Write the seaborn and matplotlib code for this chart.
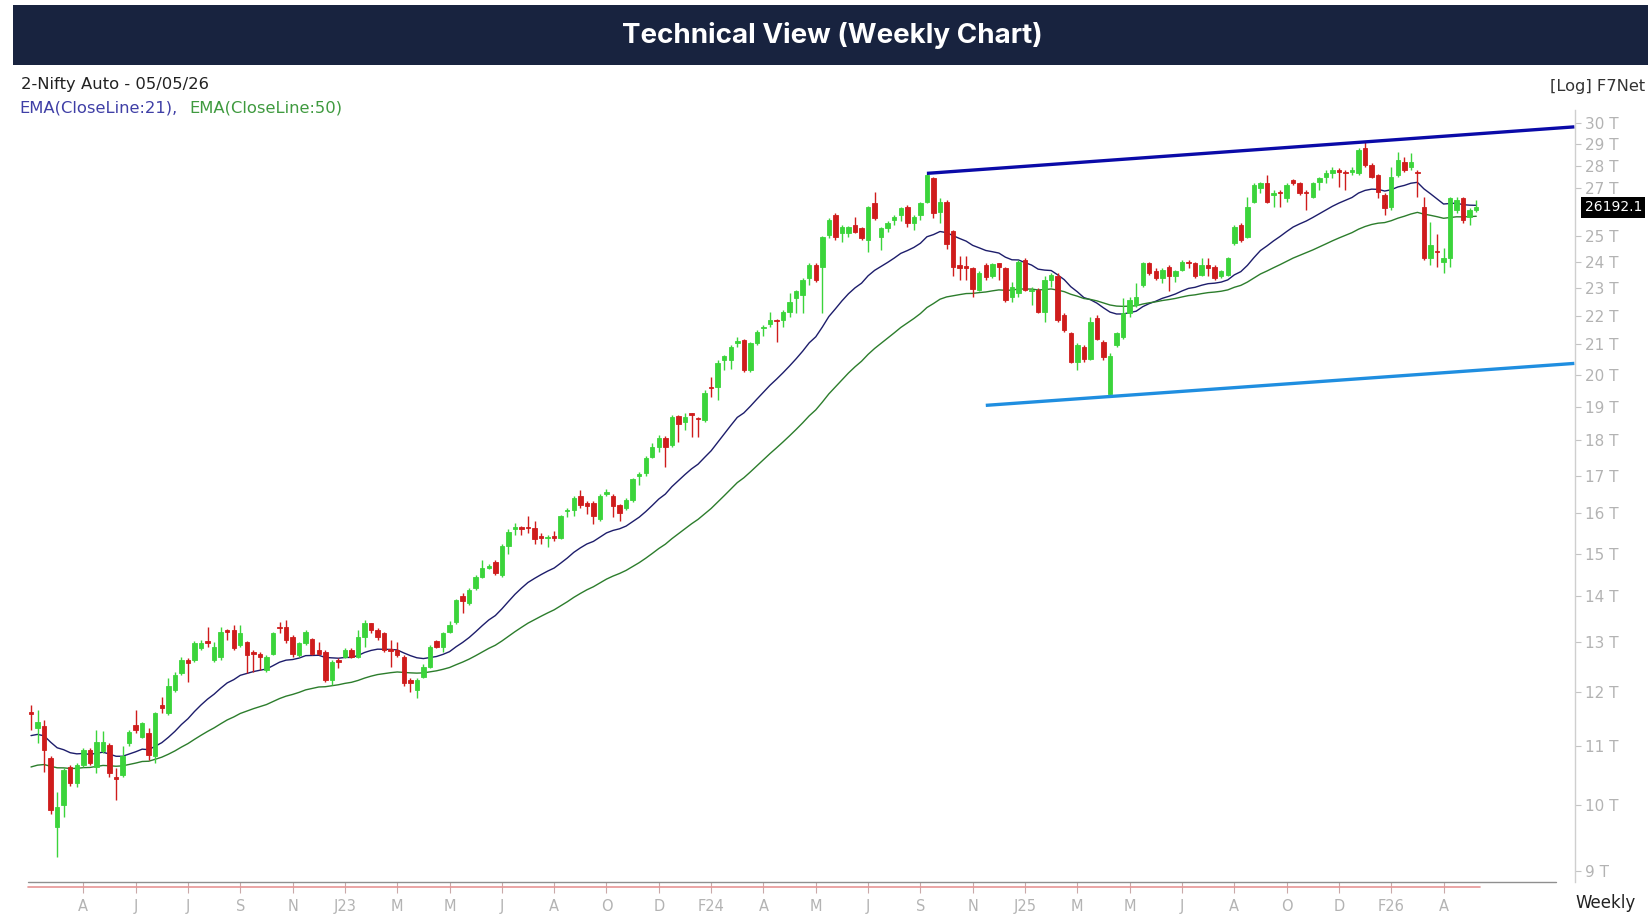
import numpy as np
import pandas as pd
import matplotlib
matplotlib.use("Agg")
import matplotlib.pyplot as plt
import matplotlib.transforms as mtransforms
from matplotlib.patches import Rectangle
from matplotlib.ticker import FixedLocator, NullLocator, FuncFormatter
import seaborn as sns

# weekly candles of Nifty Auto, values in thousands (T)
open_ = [11.62, 11.32, 11.36, 10.79, 9.66, 10.01, 10.64, 10.36, 10.67, 10.93,
         10.64, 10.91, 11.02, 10.47, 10.50, 11.05, 11.38, 11.17, 11.23, 10.82,
         11.75, 11.60, 12.04, 12.37, 12.64, 12.64, 12.88, 13.02, 12.64, 12.70,
         13.26, 13.26, 12.95, 13.00, 12.80, 12.77, 12.43, 12.77, 13.33, 13.33,
         13.12, 12.74, 12.98, 13.08, 12.84, 12.81, 12.24, 12.64, 12.70, 12.84,
         12.70, 13.12, 13.41, 13.26, 13.19, 12.86, 12.84, 12.70, 12.24, 12.04,
         12.30, 12.50, 13.02, 12.91, 13.22, 13.44, 14.00, 13.85, 14.18, 14.45,
         14.66, 14.80, 14.49, 15.19, 15.60, 15.66, 15.66, 15.64, 15.42, 15.37,
         15.43, 15.38, 16.05, 16.10, 16.45, 16.28, 16.28, 15.85, 16.50, 16.45,
         16.22, 16.15, 16.36, 16.98, 17.07, 17.53, 17.81, 18.06, 17.86, 18.72,
         18.54, 18.80, 18.66, 18.59, 19.62, 19.62, 20.48, 20.48, 21.05, 21.15,
         20.15, 21.04, 21.55, 21.70, 21.85, 21.85, 22.14, 22.62, 22.75, 23.37,
         23.87, 23.80, 25.04, 25.87, 25.11, 25.11, 25.45, 25.32, 24.85, 26.36,
         24.98, 25.32, 25.66, 25.87, 26.22, 25.52, 25.87, 26.43, 27.44, 26.00,
         26.43, 25.20, 23.85, 23.82, 23.74, 22.93, 23.86, 23.43, 23.93, 23.74,
         22.68, 22.80, 24.06, 22.87, 22.93, 22.14, 23.30, 23.43, 22.02, 21.38,
         20.42, 20.92, 20.53, 21.90, 21.10, 19.40, 20.98, 21.26, 22.08, 22.38,
         23.12, 23.93, 23.62, 23.37, 23.80, 23.43, 23.68, 24.00, 23.93, 23.49,
         23.87, 23.80, 23.43, 23.49, 24.72, 25.45, 24.98, 26.43, 27.00, 27.22,
         26.70, 26.86, 26.57, 27.37, 27.22, 26.86, 26.64, 27.29, 27.51, 27.66,
         27.81, 27.73, 27.73, 27.66, 28.80, 28.02, 27.58, 26.71, 26.22, 27.58,
         28.18, 27.96, 27.70, 26.22, 24.12, 24.42, 24.00, 24.12, 26.08, 26.57,
         25.80, 26.08]
high = [11.76, 11.66, 11.47, 10.82, 10.22, 10.62, 10.67, 10.70, 10.96, 10.96,
        11.29, 11.28, 11.05, 10.62, 11.00, 11.29, 11.66, 11.44, 11.32, 11.63,
        11.91, 12.27, 12.40, 12.70, 12.67, 13.02, 13.05, 13.33, 13.00, 13.33,
        13.28, 13.37, 13.37, 13.02, 12.84, 12.81, 12.74, 13.22, 13.44, 13.48,
        13.15, 13.00, 13.26, 13.10, 13.00, 12.84, 12.64, 12.67, 12.88, 12.88,
        13.26, 13.48, 13.42, 13.30, 13.22, 13.05, 13.00, 12.74, 12.27, 12.27,
        12.55, 12.95, 13.05, 13.22, 13.45, 13.95, 14.07, 14.18, 14.49, 14.84,
        14.76, 14.84, 15.22, 15.60, 15.76, 15.68, 15.93, 15.80, 15.50, 15.45,
        15.56, 15.96, 16.15, 16.45, 16.62, 16.32, 16.32, 16.50, 16.65, 16.50,
        16.25, 16.40, 16.93, 17.10, 17.55, 17.91, 18.15, 18.11, 18.74, 18.75,
        18.80, 18.82, 18.68, 19.52, 19.94, 20.48, 20.65, 20.98, 21.27, 21.20,
        21.10, 21.50, 21.66, 22.14, 21.87, 22.20, 22.80, 22.93, 23.37, 23.93,
        23.93, 25.00, 25.73, 25.94, 25.45, 25.40, 25.80, 25.39, 26.25, 26.85,
        25.39, 25.60, 25.87, 26.22, 26.28, 25.87, 26.43, 27.66, 27.50, 26.57,
        26.50, 25.25, 24.20, 24.20, 23.80, 23.62, 23.93, 23.93, 23.95, 23.80,
        23.24, 24.06, 24.12, 23.05, 23.00, 23.43, 23.55, 23.55, 22.08, 21.44,
        21.04, 20.98, 21.96, 22.02, 21.15, 20.70, 21.44, 22.62, 22.68, 23.18,
        24.00, 24.00, 23.74, 23.74, 23.87, 23.68, 24.06, 24.06, 24.00, 24.12,
        24.12, 23.87, 23.68, 24.19, 25.45, 25.52, 26.64, 27.22, 27.29, 27.58,
        26.93, 26.93, 27.22, 27.40, 27.29, 26.93, 27.29, 27.51, 27.81, 27.96,
        27.88, 27.81, 27.96, 28.80, 29.10, 28.11, 27.62, 26.78, 27.96, 28.64,
        28.41, 28.56, 27.81, 26.64, 25.59, 25.10, 24.52, 26.64, 26.64, 26.64,
        26.15, 26.50]
low = [11.29, 11.05, 10.56, 9.86, 9.21, 9.82, 10.31, 10.30, 10.64, 10.67,
       10.53, 10.88, 10.47, 10.09, 10.47, 11.00, 11.23, 11.14, 10.76, 10.70,
       11.60, 11.57, 12.00, 12.34, 12.20, 12.60, 12.85, 12.91, 12.60, 12.64,
       13.05, 12.84, 12.91, 12.38, 12.40, 12.43, 12.40, 12.74, 13.19, 12.98,
       12.70, 12.70, 12.95, 12.74, 12.74, 12.20, 12.14, 12.47, 12.67, 12.67,
       12.67, 12.91, 13.19, 13.05, 12.80, 12.50, 12.70, 12.11, 12.00, 11.88,
       12.27, 12.47, 12.88, 12.80, 13.19, 13.40, 13.62, 13.81, 14.14, 14.41,
       14.62, 14.49, 14.45, 15.00, 15.45, 15.45, 15.50, 15.23, 15.22, 15.15,
       15.30, 15.35, 15.90, 15.93, 16.15, 15.98, 15.73, 15.80, 16.45, 15.90,
       15.80, 16.10, 16.30, 16.75, 17.00, 17.49, 17.66, 17.25, 17.80, 17.95,
       18.30, 18.10, 18.10, 18.54, 19.31, 19.20, 20.15, 20.20, 20.93, 20.10,
       20.10, 20.98, 21.30, 21.60, 21.10, 21.60, 21.95, 22.08, 22.08, 23.12,
       23.24, 22.08, 24.92, 24.85, 24.78, 24.98, 25.11, 24.85, 24.38, 25.66,
       24.45, 25.18, 25.45, 25.60, 25.39, 25.25, 25.66, 26.36, 25.73, 25.52,
       24.50, 23.45, 23.30, 23.30, 22.68, 22.87, 23.30, 23.37, 23.31, 22.50,
       22.50, 22.68, 22.87, 22.38, 22.08, 21.79, 23.05, 21.79, 21.44, 20.37,
       20.16, 20.42, 20.48, 21.15, 20.48, 19.30, 20.92, 21.20, 21.96, 22.32,
       23.05, 23.49, 23.30, 23.18, 22.87, 23.24, 23.62, 23.74, 23.37, 23.43,
       23.43, 23.30, 23.37, 23.43, 24.65, 24.78, 24.92, 26.36, 26.78, 26.36,
       26.22, 26.22, 26.43, 27.15, 26.71, 26.08, 26.57, 26.93, 27.22, 27.44,
       27.07, 26.93, 27.58, 27.58, 27.95, 27.44, 26.57, 25.87, 26.08, 27.51,
       27.73, 27.81, 26.64, 24.06, 23.87, 23.80, 23.55, 23.80, 25.94, 25.52,
       25.45, 26.00]
close = [11.58, 11.43, 10.93, 9.93, 9.98, 10.59, 10.36, 10.67, 10.93, 10.70,
         11.08, 11.08, 10.53, 10.44, 10.82, 11.26, 11.29, 11.41, 10.85, 11.60,
         11.70, 12.11, 12.34, 12.64, 12.57, 12.98, 12.98, 12.98, 12.91, 13.22,
         13.22, 12.88, 13.19, 12.74, 12.77, 12.70, 12.70, 13.19, 13.30, 13.05,
         12.77, 12.98, 13.22, 12.77, 12.77, 12.24, 12.60, 12.60, 12.84, 12.70,
         13.12, 13.41, 13.26, 13.12, 12.84, 12.82, 12.74, 12.17, 12.17, 12.24,
         12.50, 12.91, 12.91, 13.19, 13.37, 13.92, 13.90, 14.14, 14.45, 14.65,
         14.71, 14.53, 15.19, 15.52, 15.66, 15.60, 15.62, 15.35, 15.38, 15.40,
         15.38, 15.93, 16.10, 16.40, 16.22, 16.19, 15.93, 16.45, 16.56, 16.19,
         16.02, 16.36, 16.90, 17.05, 17.48, 17.81, 18.06, 17.81, 18.69, 18.49,
         18.70, 18.75, 18.62, 19.41, 19.57, 20.37, 20.60, 20.93, 21.11, 20.15,
         21.04, 21.43, 21.60, 21.85, 21.80, 22.14, 22.50, 22.87, 23.30, 23.87,
         23.30, 24.95, 25.66, 24.98, 25.39, 25.39, 25.18, 24.92, 26.22, 25.73,
         25.32, 25.52, 25.80, 26.15, 25.52, 25.80, 26.36, 27.58, 25.94, 26.43,
         24.70, 23.80, 23.75, 23.75, 22.95, 23.55, 23.40, 23.90, 23.80, 22.56,
         23.05, 24.00, 22.93, 22.93, 22.14, 23.30, 23.49, 21.85, 21.50, 20.42,
         20.98, 20.53, 21.79, 21.20, 20.59, 20.60, 21.38, 22.08, 22.56, 22.68,
         23.93, 23.55, 23.37, 23.68, 23.43, 23.62, 24.00, 23.93, 23.43, 23.87,
         23.74, 23.37, 23.62, 24.12, 25.38, 24.85, 26.22, 27.15, 27.22, 26.43,
         26.79, 26.79, 27.15, 27.22, 26.79, 26.79, 27.22, 27.44, 27.66, 27.81,
         27.73, 27.66, 27.81, 28.72, 28.05, 27.51, 26.86, 26.15, 27.51, 28.26,
         27.81, 28.18, 27.66, 24.12, 24.65, 24.38, 24.12, 26.57, 26.50, 25.66,
         26.08, 26.1921]

# EMA values at the first visible week (history before the window)
ema21_start = 11.15
ema50_start = 10.60

# trend lines: (week number, value in T)
upper_weeks = [137, 236]
upper_values = [27.66, 29.81]
lower_weeks = [146, 236]
lower_values = [19.04, 20.37]

x_labels = ["A", "J", "J", "S", "N", "J23", "M", "M", "J", "A", "O", "D", "F24", "A",
            "M", "J", "S", "N", "J25", "M", "M", "J", "A", "O", "D", "F26", "A"]
# 26 T sits under the last-price tag, so the chart does not print it
y_levels = [9, 10, 11, 12, 13, 14, 15, 16, 17, 18, 19, 20, 21, 22, 23, 24, 25, 27, 28, 29, 30]
last_text = "26192.1"

assert len(open_) == len(high) == len(low) == len(close), (len(open_), len(high), len(low), len(close))

sns.set_theme(style="white")
plt.rcParams['font.family'] = ['DejaVu Sans']

df = pd.DataFrame({'open': open_, 'high': high, 'low': low, 'close': close})
df['week'] = np.arange(len(df))
df['ema21'] = pd.Series([ema21_start] + close).ewm(span=21, adjust=False).mean().iloc[1:].values
df['ema50'] = pd.Series([ema50_start] + close).ewm(span=50, adjust=False).mean().iloc[1:].values
df['up'] = df['close'] >= df['open']

W, H = 1648, 915
fig = plt.figure(figsize=(W / 100, H / 100), dpi=100)
fig.patch.set_facecolor('white')

# header band
fig.add_artist(Rectangle((12.6 / W, 1 - 65 / H), 1 - 12.6 / W, 60 / H,
                         transform=fig.transFigure, facecolor='#18233f', edgecolor='none'))
fig.text(0.505, 1 - 35.5 / H, "Technical View (Weekly Chart)", color='white',
         fontsize=20, fontweight='bold', family=['Inter', 'DejaVu Sans'], ha='center', va='center')

ax = fig.add_axes([28 / W, 33 / H, 1547 / W, 772 / H])
ax.set_facecolor('none')

green = '#3bd43b'
red = '#cf1c1c'
for up, col in [(True, green), (False, red)]:
    d = df[df['up'] == up]
    ax.vlines(d['week'], d['low'], d['high'], color=col, lw=1.0, zorder=3)
    bottom = d[['open', 'close']].min(axis=1)
    height = (d['close'] - d['open']).abs()
    ax.bar(d['week'], height, bottom=bottom, width=0.68, color=col, linewidth=0.6,
           edgecolor=col, zorder=3)

sns.lineplot(data=df, x='week', y='ema21', ax=ax, color='#1d1d6b', lw=1.0, zorder=2)
sns.lineplot(data=df, x='week', y='ema50', ax=ax, color='#2c7d2c', lw=1.0, zorder=2)

ax.plot(upper_weeks, upper_values, color='#0a0aa8', lw=2.4, zorder=4, solid_capstyle='butt')
ax.plot(lower_weeks, lower_values, color='#1f8ee0', lw=2.4, zorder=4, solid_capstyle='butt')

ax.set_yscale('log')
ax.set_xlim(-0.46, 236.1)
ax.set_ylim(8.84, 30.63)
ax.set_xlabel('')
ax.set_ylabel('')

# right price axis
ax.yaxis.tick_right()
ax.yaxis.set_major_locator(FixedLocator(y_levels))
ax.yaxis.set_minor_locator(NullLocator())
ax.yaxis.set_major_formatter(FuncFormatter(lambda v, p: f"{v:.0f} T"))
ax.tick_params(axis='y', which='major', right=True, left=False, direction='out', length=4,
               width=0.8, color='#c4c4c4', labelcolor='#b3b3b3', labelsize=11, pad=3)

# time axis
ax.set_xticks(range(8, 8 * len(x_labels) + 1, 8))
ax.set_xticklabels(x_labels)
ax.tick_params(axis='x', bottom=True, direction='out', length=8, width=0.8, color='#c9a9a9',
               labelcolor='#b3b3b3', labelsize=10.5, pad=4)

for s in ['top', 'left', 'bottom']:
    ax.spines[s].set_visible(False)
ax.spines['right'].set_color('#cfcfcf')
ax.spines['right'].set_linewidth(1)

ax.plot([0, 0.988], [0, 0], transform=ax.transAxes, color='#8f8f8f', lw=1, clip_on=False)
blend = mtransforms.blended_transform_factory(ax.transData, ax.transAxes)
ax.plot([-0.46, 221.6], [-0.0068, -0.0068], transform=blend, color='#e69595', lw=1.2, clip_on=False)

# last price tag
blend_y = mtransforms.blended_transform_factory(ax.transAxes, ax.transData)
ax.text(1.0062, close[-1], last_text, transform=blend_y, color='white', fontsize=10,
        va='center', ha='left', clip_on=False, zorder=10,
        bbox=dict(boxstyle='square,pad=0.25', facecolor='black', edgecolor='none'))

# captions
fig.text(21 / W, 1 - 85 / H, "2-Nifty Auto - 05/05/26", fontsize=11.8, color='#222222', va='center')
fig.text(19 / W, 1 - 108 / H, "EMA(CloseLine:21),", fontsize=11.8, color='#3f3fa6', va='center')
fig.text(189 / W, 1 - 108 / H, "EMA(CloseLine:50)", fontsize=11.8, color='#3f9a3f', va='center')
fig.text(1645 / W, 1 - 86 / H, "[Log] F7Net", fontsize=11.7, color='#333333', va='center', ha='right')
fig.text(1575 / W, 1 - 903.5 / H, "Weekly", fontsize=12, color='#222222', va='center')

fig.savefig('out.png', dpi=100, facecolor='white')
